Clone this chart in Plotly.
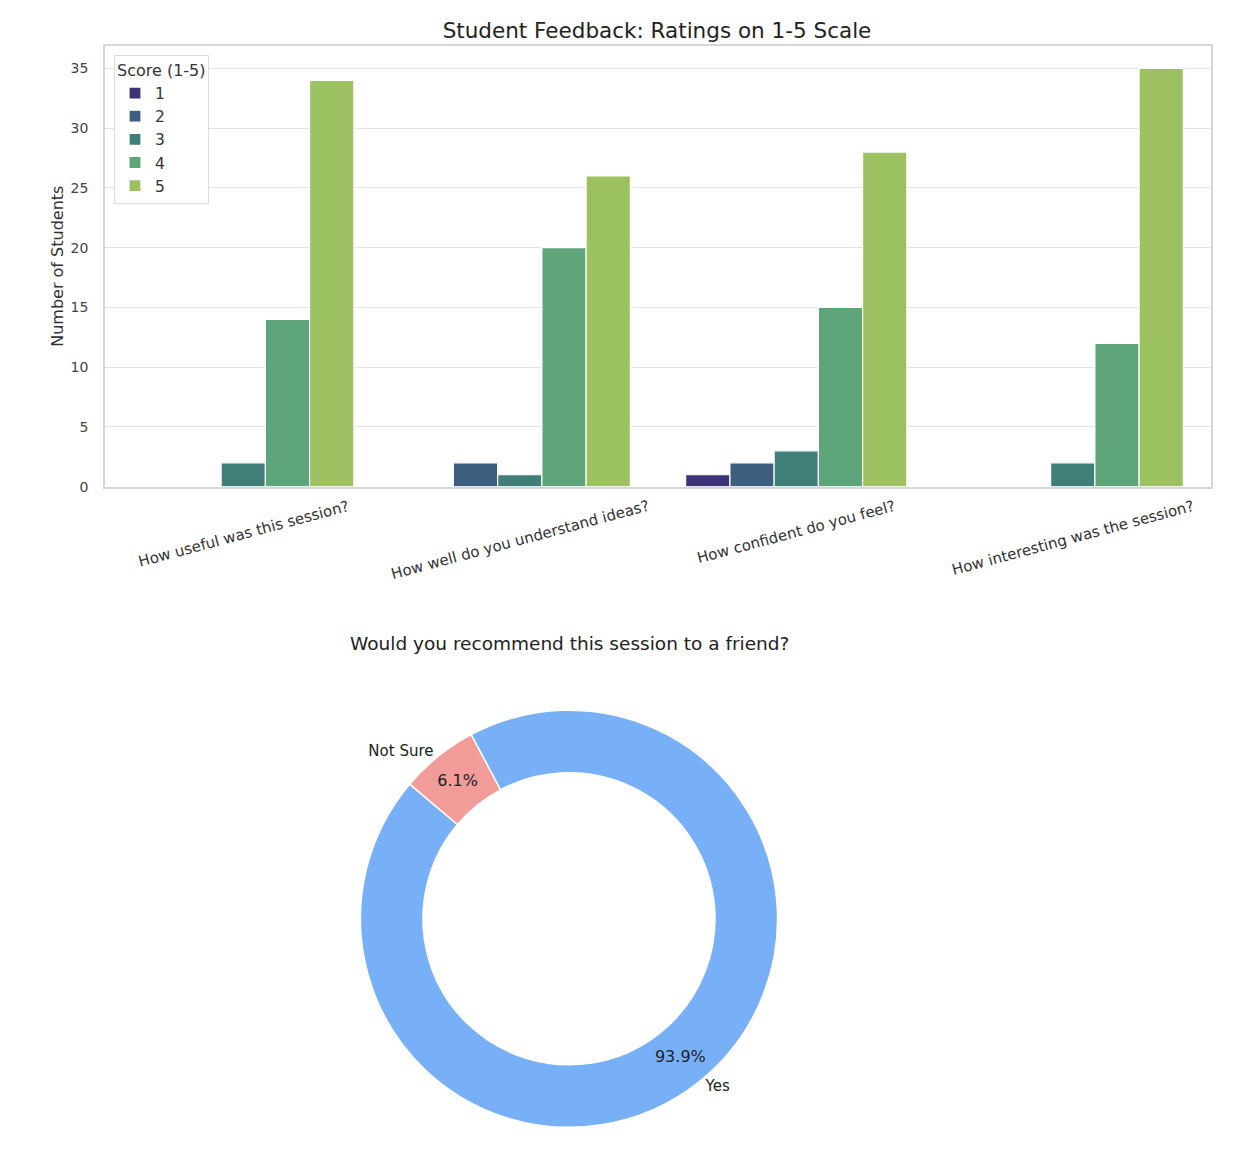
import plotly.graph_objects as go

questions = ["How useful was this session?", "How well do you understand ideas?",
             "How confident do you feel?", "How interesting was the session?"]
scores = ["1", "2", "3", "4", "5"]
counts = {
    "1": [0, 0, 1, 0],
    "2": [0, 2, 2, 0],
    "3": [2, 1, 3, 2],
    "4": [14, 20, 15, 12],
    "5": [34, 26, 28, 35],
}
score_colors = ["#3d3177", "#3e5e80", "#3f7e79", "#5fa57a", "#9bc160"]

rec_labels = ["Yes", "Not Sure"]
rec_values = [31, 2]
rec_colors = ["#78b0f8", "#f19c99"]

font = "DejaVu Sans"
W, H = 1248, 1170
off = 8  # page body margin

def px(x):
    return (x - off) / W

def py(y):
    return (H - (y - off)) / H

fig = go.Figure()
for s, c in zip(scores, score_colors):
    fig.add_trace(go.Bar(x=questions, y=counts[s], name=s, marker_color=c,
                         marker_line_color="white", marker_line_width=1.2))

pie_dom = dict(x=[px(359), px(779)], y=[py(1135), py(715)])
# donut with percentages inside the ring
fig.add_trace(go.Pie(labels=rec_labels, values=rec_values, hole=0.7, sort=False,
                     direction="counterclockwise", rotation=-28,
                     marker=dict(colors=rec_colors, line=dict(color="white", width=1.5)),
                     texttemplate="%{percent:.1%}", textposition="inside",
                     insidetextorientation="horizontal",
                     textfont=dict(family=font, size=16, color="#222"),
                     domain=pie_dom, showlegend=False, hoverinfo="skip"))
# transparent copy for the outside labels
fig.add_trace(go.Pie(labels=rec_labels, values=rec_values, hole=0.7, sort=False,
                     direction="counterclockwise", rotation=-28,
                     marker=dict(colors=["rgba(0,0,0,0)", "rgba(0,0,0,0)"]),
                     textinfo="label", textposition="outside",
                     textfont=dict(family=font, size=15, color="#222"),
                     domain=pie_dom, showlegend=False, hoverinfo="skip"))

# rotated category labels, centred under each group
for q in questions:
    fig.add_annotation(x=q, y=py(498), xref="x", yref="paper", text=q, showarrow=False,
                       textangle=-15, xanchor="center", yanchor="top",
                       font=dict(family=font, size=15, color="#333"))

fig.add_annotation(x=px(569), y=py(648), xref="paper", yref="paper",
                   text="Would you recommend this session to a friend?", showarrow=False,
                   font=dict(family=font, size=18.5, color="#222"))

fig.update_layout(
    width=W, height=H,
    margin=dict(l=0, r=0, t=0, b=0),
    paper_bgcolor="white", plot_bgcolor="white",
    font=dict(family=font, color="#333"),
    title=dict(text="Student Feedback: Ratings on 1-5 Scale", x=px(657), xanchor="center",
               y=py(30), yanchor="middle", font=dict(size=21.5, color="#222")),
    barmode="group", bargap=0.2, bargroupgap=0,
    legend=dict(title=dict(text="Score (1-5)", font=dict(size=16)), font=dict(size=15.5),
                x=px(114), y=py(55), xanchor="left", yanchor="top", tracegroupgap=0,
                bgcolor="white", bordercolor="#dddddd", borderwidth=1),
    xaxis=dict(domain=[px(105), px(1211)], showticklabels=False, showgrid=False,
               showline=True, mirror=True, linecolor="#d6d6d6", linewidth=1.5),
    yaxis=dict(domain=[py(490), py(46)], range=[0, 36.9],
               tickvals=[0, 5, 10, 15, 20, 25, 30, 35], tickfont=dict(size=14, color="#444"),
               gridcolor="#e3e3e3", showline=True, mirror=True, linecolor="#d6d6d6",
               linewidth=1.5, zeroline=False, ticks="", ticklabelstandoff=12,
               title=dict(text="Number of Students", font=dict(size=16, color="#333"),
                          standoff=3)),
)

fig.write_html("out.html")
